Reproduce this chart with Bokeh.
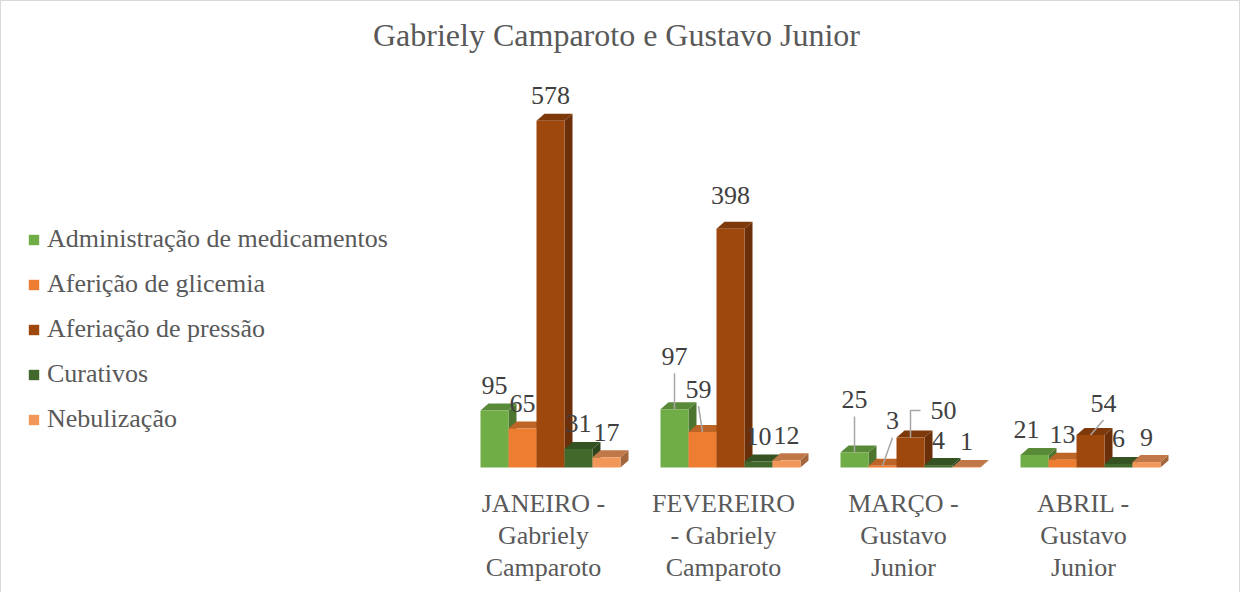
import numpy as np
from bokeh.plotting import figure
from bokeh.models import Range1d, Legend, LegendItem
from bokeh.embed import file_html
from bokeh.resources import INLINE

# ---------------- data ----------------
chart_title = "Gabriely Camparoto e  Gustavo Junior"
months = [
    "JANEIRO -\nGabriely\nCamparoto",
    "FEVEREIRO\n- Gabriely\nCamparoto",
    "MARÇO -\nGustavo\nJunior",
    "ABRIL -\nGustavo\nJunior",
]
series_names = [
    "Administração de medicamentos",
    "Aferição de glicemia",
    "Aferiação de pressão",
    "Curativos",
    "Nebulização",
]
administracao = [95, 97, 25, 21]
glicemia = [65, 59, 3, 13]
pressao = [578, 398, 50, 54]
curativos = [31, 10, 4, 6]
nebulizacao = [17, 12, 1, 9]
series_values = [administracao, glicemia, pressao, curativos, nebulizacao]

# ---------------- style ----------------
colors = ["#70AD47", "#ED7D31", "#9E480E", "#43682B", "#F1975A"]
FONT = "Liberation Serif"
TXT = "#595959"
LBL = "#404040"

W, H = 1240, 592
TOP = 57
PX_X = 180.0          # pixels per category
PX_Y = 0.6            # pixels per unit
frame_h = H - TOP
zero_px_above_bottom = 125
y0 = -zero_px_above_bottom / PX_Y
y1 = y0 + frame_h / PX_Y
tick_page_x = 551 - 8
x0 = -tick_page_x / PX_X
x1 = x0 + W / PX_X

bar_w = 28 / PX_X
shift = 7 / PX_X
ddx = 8 / PX_X
ddy = 7 / PX_Y
cat_label_y = -68 / PX_Y

# label nudges in pixels (dx, dy, leader)
nudges = {
    (2, 1): (0, -8, None),
    (0, 1): (0, -28, "line"),
    (1, 1): (-4, -18, "line"),
    (0, 2): (0, -28, "line"),
    (1, 2): (10, -20, "line"),
    (2, 2): (33, -2, "elbow"),
    (0, 3): (-8, 0, None),
    (2, 3): (13, -7, "line"),
}


def shade(hex_color, f):
    h = hex_color.lstrip("#")
    r, g, b = (int(h[k:k + 2], 16) for k in (0, 2, 4))
    return "#%02x%02x%02x" % (int(r * f), int(g * f), int(b * f))


p = figure(
    width=W, height=H,
    x_range=Range1d(x0, x1), y_range=Range1d(y0, y1),
    output_backend="svg", toolbar_location=None,
    x_axis_location=None, y_axis_location=None,
    min_border_left=0, min_border_right=0,
    min_border_top=TOP, min_border_bottom=0,
    title=chart_title,
)
p.styles = {"box-shadow": "inset 1px 1px 0 #d9d9d9, inset -1px 0 0 #d9d9d9"}
p.border_fill_color = None
p.background_fill_color = None
p.outline_line_color = None
p.xgrid.visible = False
p.ygrid.visible = False

p.title.align = "center"
p.title.text_font = FONT
p.title.text_font_size = "32px"
p.title.text_font_style = "normal"
p.title.text_color = TXT

legend_items = []
lab_x, lab_y, lab_t = [], [], []
lead_xs, lead_ys = [], []
n = len(months)
for j, vals in enumerate(series_values):
    vals = np.array(vals, dtype=float)
    left = np.arange(n) + shift + (j - 2.5) * bar_w
    right = left + bar_w
    col = colors[j]
    # side faces
    p.patches(
        xs=[[r, r + ddx, r + ddx, r] for r in right],
        ys=[[0, ddy, v + ddy, v] for v in vals],
        fill_color=shade(col, 0.68), line_color=None,
    )
    # top faces
    p.patches(
        xs=[[l, r, r + ddx, l + ddx] for l, r in zip(left, right)],
        ys=[[v, v, v + ddy, v + ddy] for v in vals],
        fill_color=shade(col, 0.80), line_color=None,
    )
    front = p.quad(left=left, right=right, bottom=0, top=vals,
                   fill_color=col, line_color=None)
    legend_items.append(LegendItem(label=series_names[j], renderers=[front]))

    for i, v in enumerate(vals):
        cx = (left[i] + right[i]) / 2
        ndx, ndy, lead = nudges.get((j, i), (0, 0, None))
        tx = cx + ndx / PX_X
        ty = v + (25 - ndy) / PX_Y
        lab_x.append(tx)
        lab_y.append(ty)
        lab_t.append(str(int(v)))
        if lead == "line":
            lead_xs.append([tx, cx])
            lead_ys.append([ty - 17 / PX_Y, v])
        elif lead == "elbow":
            lead_xs.append([tx - 23 / PX_X, cx, cx])
            lead_ys.append([ty, ty, v])

p.multi_line(xs=lead_xs, ys=lead_ys, line_color="#a6a6a6", line_width=1.5)
p.text(x=lab_x, y=lab_y, text=lab_t, text_align="center", text_baseline="middle",
       text_font={"value": FONT}, text_font_size="26px", text_color=LBL)

# category labels
p.text(x=list(range(n)), y=[cat_label_y] * n, text=months,
       text_align="center", text_baseline="middle",
       text_font={"value": FONT}, text_font_size="26px", text_color=TXT,
       text_line_height=1.12)

legend = Legend(items=legend_items, location=(27, 158))
legend.label_text_font = FONT
legend.label_text_font_size = "26px"
legend.label_text_color = TXT
legend.glyph_width = 13
legend.glyph_height = 13
legend.label_height = 30
legend.label_standoff = 7
legend.spacing = 15
legend.padding = 0
legend.margin = 0
legend.border_line_color = None
legend.background_fill_color = None
p.add_layout(legend)

open("out.html", "w").write(file_html(p, INLINE))
